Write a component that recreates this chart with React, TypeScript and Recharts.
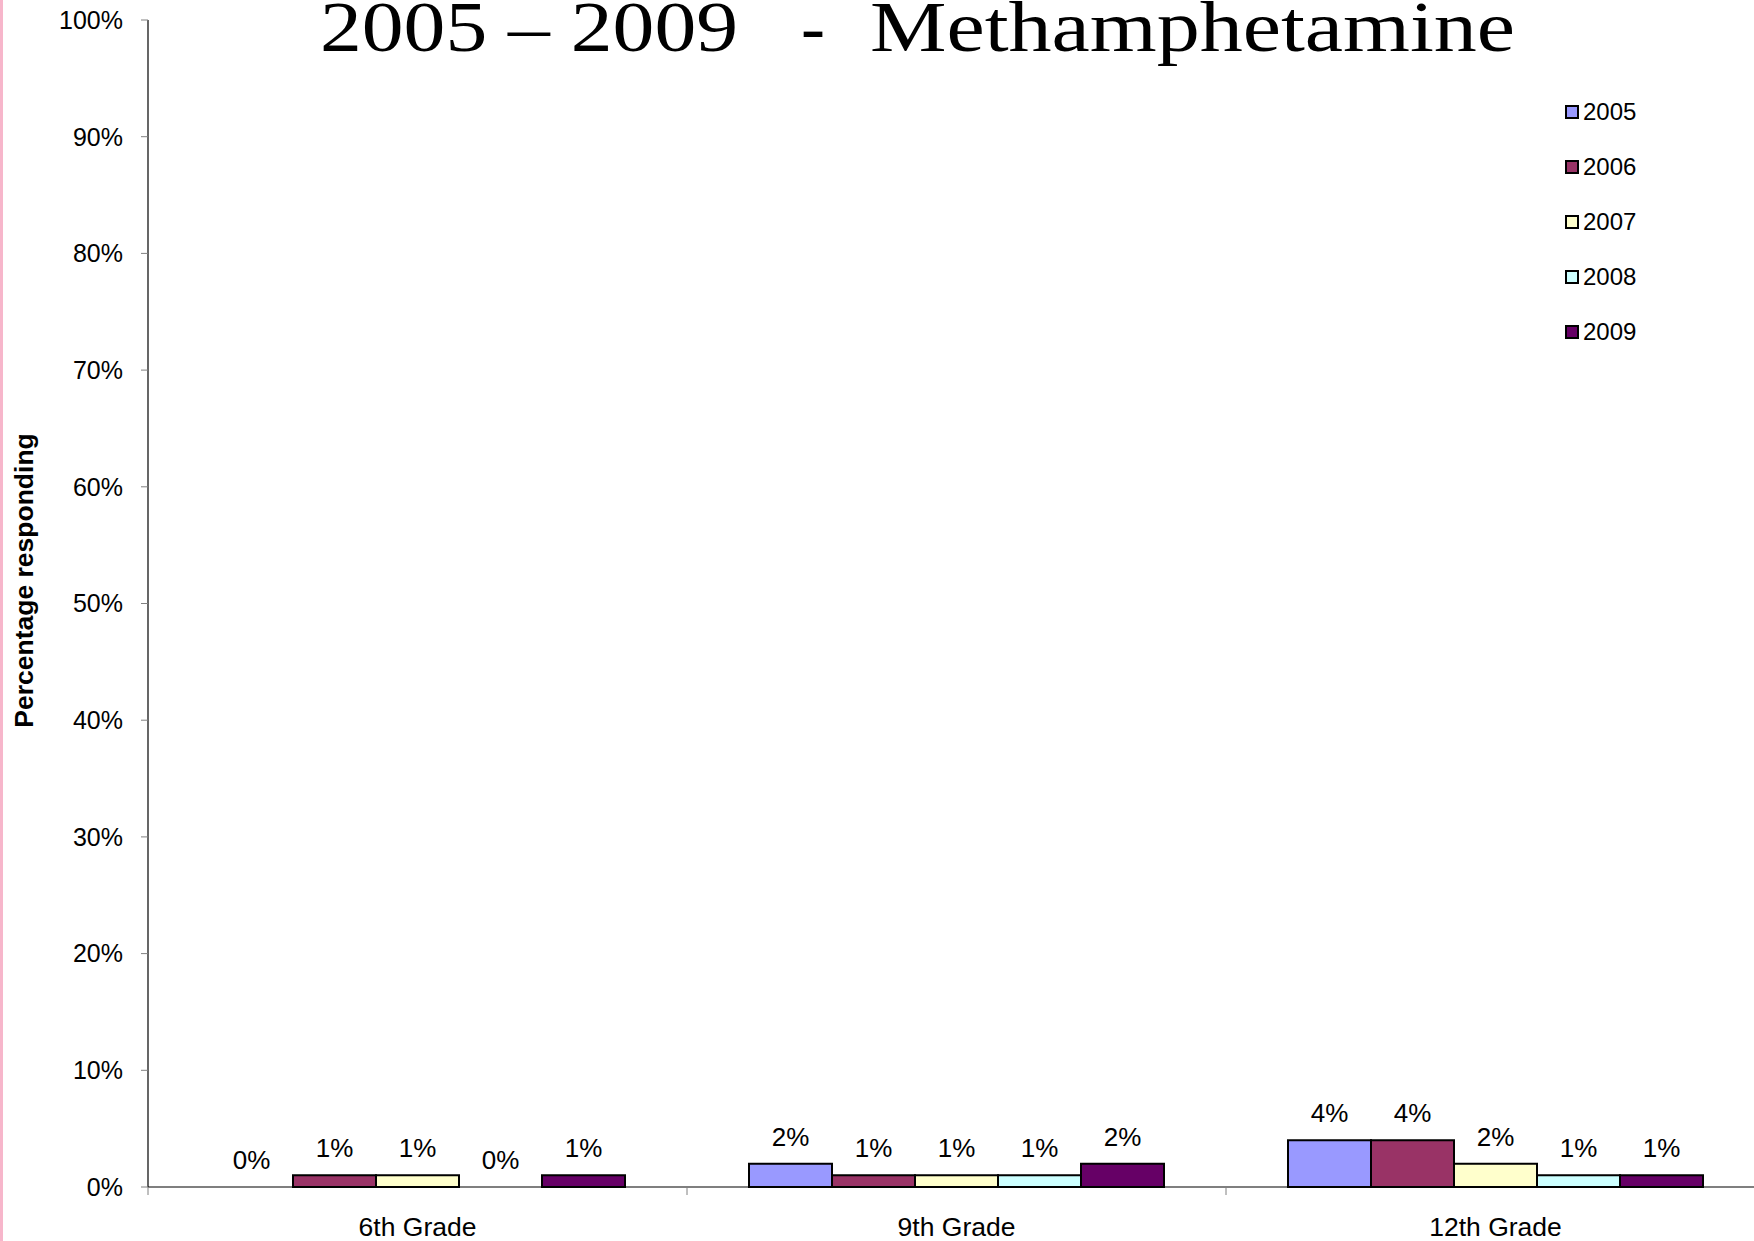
import React from 'react';
import { BarChart, Bar, XAxis, YAxis, LabelList, Rectangle } from 'recharts';

const categories = ['6th Grade', '9th Grade', '12th Grade'];
const years = ['2005', '2006', '2007', '2008', '2009'];
const colors = ['#9999ff', '#993366', '#ffffcc', '#ccffff', '#660066'];

const v2005 = [0, 2, 4];
const v2006 = [1, 1, 4];
const v2007 = [1, 1, 2];
const v2008 = [0, 1, 1];
const v2009 = [1, 2, 1];

const yTicks = [0, 10, 20, 30, 40, 50, 60, 70, 80, 90, 100];

const seriesValues = [v2005, v2006, v2007, v2008, v2009];

const data = categories.map((grade, i) => {
  const row: Record<string, string | number> = { grade };
  years.forEach((y, k) => {
    row[y] = seriesValues[k][i];
  });
  return row;
});

const SANS = '"Liberation Sans", Arial, sans-serif';
const SERIF = '"Liberation Serif", "Times New Roman", serif';

function GradeTick(props: any) {
  const { x, y, payload, width, visibleTicksCount } = props;
  const bw = (width ?? 1617) / (visibleTicksCount ?? categories.length);
  const edge = x - bw / 2;
  return (
    <g>
      <line x1={edge} x2={edge} y1={y} y2={y + 8} stroke="#808080" strokeWidth={1} />
      <text x={x} y={y + 49} textAnchor="middle" fontSize={26.5} fill="#000" fontFamily={SANS}>
        {payload.value}
      </text>
    </g>
  );
}

function AxisTitle(props: any) {
  const vb = props.viewBox ?? { x: 0, y: 20, width: 148, height: 1167 };
  const cy = vb.y + vb.height / 2 - 23;
  const cx = 33;
  return (
    <text
      x={cx}
      y={cy}
      transform={`rotate(-90 ${cx} ${cy})`}
      textAnchor="middle"
      fontSize={26.5}
      fontWeight="bold"
      fill="#000"
      fontFamily={SANS}
    >
      Percentage responding
    </text>
  );
}

// zero bars: keep the entry (so its label shows) but draw nothing
function BarShape(props: any) {
  if (Math.abs(props.height ?? 0) < 0.5) return <g />;
  return <Rectangle {...props} />;
}

export default function App() {
  return (
    <div
      style={{
        position: 'absolute',
        left: 0,
        top: 0,
        width: 1754,
        height: 1241,
        overflow: 'hidden',
        background: '#fff',
        fontFamily: SANS,
      }}
    >
      <BarChart
        width={1780}
        height={1241}
        data={data}
        margin={{ top: 20, right: 15, left: 0, bottom: 0 }}
        barCategoryGap={62}
        barGap={0}
      >
        <XAxis
          dataKey="grade"
          height={54}
          interval={0}
          axisLine={{ stroke: '#000', strokeWidth: 1.2 }}
          tickLine={false}
          tickSize={0}
          tickMargin={0}
          tick={<GradeTick />}
        />
        <YAxis
          width={148}
          domain={[0, 100]}
          ticks={yTicks}
          interval={0}
          tickFormatter={(v: number) => `${v}%`}
          tick={{ fill: '#000', fontSize: 25, fontFamily: SANS }}
          tickLine={{ stroke: '#808080' }}
          tickSize={7}
          tickMargin={18}
          axisLine={{ stroke: '#000', strokeWidth: 1.2 }}
          label={{ content: (p: any) => <AxisTitle {...p} /> }}
        />
        {years.map((y, i) => (
          <Bar
            key={y}
            dataKey={y}
            name={y}
            fill={colors[i]}
            stroke="#000"
            strokeWidth={2}
            minPointSize={0.01}
            shape={<BarShape />}
            isAnimationActive={false}
          >
            <LabelList
              dataKey={y}
              position="top"
              offset={18}
              formatter={(v: any) => `${v}%`}
              fill="#000"
              fontSize={26}
              fontFamily={SANS}
            />
          </Bar>
        ))}
      </BarChart>

      {/* legend */}
      <div style={{ position: 'absolute', left: 1565, top: 84.5 }}>
        {years.map((y, i) => (
          <div key={y} style={{ height: 55, display: 'flex', alignItems: 'center' }}>
            <span
              style={{
                width: 14,
                height: 14,
                boxSizing: 'border-box',
                border: '2px solid #000',
                background: colors[i],
                display: 'inline-block',
              }}
            />
            <span style={{ marginLeft: 4, fontSize: 24, color: '#000', lineHeight: '24px' }}>{y}</span>
          </div>
        ))}
      </div>

      {/* title */}
      <svg
        width={1754}
        height={100}
        style={{ position: 'absolute', left: 0, top: 0, pointerEvents: 'none' }}
      >
        <text x={320} y={51} fontFamily={SERIF} fontSize={72} fill="#000" textLength={418} lengthAdjust="spacingAndGlyphs">
          2005 – 2009
        </text>
        <text x={801} y={51} fontFamily={SERIF} fontSize={72} fill="#000">
          -
        </text>
        <text x={870} y={51} fontFamily={SERIF} fontSize={72} fill="#000" textLength={645} lengthAdjust="spacingAndGlyphs">
          Methamphetamine
        </text>
      </svg>

      {/* pink edge on the left */}
      <div style={{ position: 'absolute', left: 0, top: 0, width: 3, height: 1241, background: '#f7b6cb' }} />
    </div>
  );
}
